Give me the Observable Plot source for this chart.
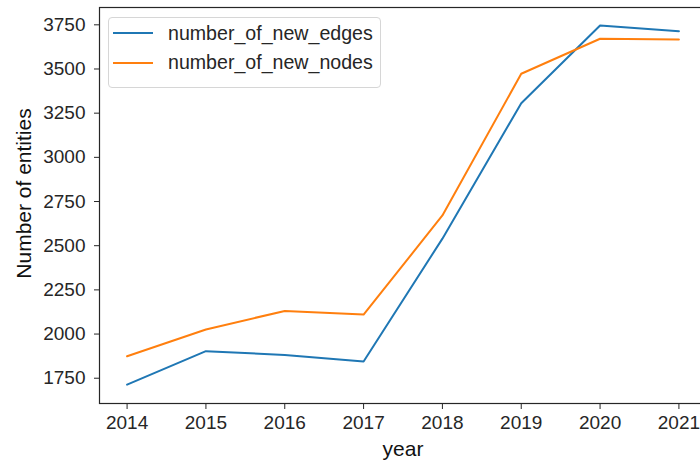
<!DOCTYPE html>
<html>
<head>
<meta charset="utf-8">
<script src="https://cdn.jsdelivr.net/npm/d3@7"></script>
<script src="https://cdn.jsdelivr.net/npm/@observablehq/plot@0.6"></script>
<style>
  html, body { margin: 0; padding: 0; background: #fff; overflow: hidden; }
  #chart { position: relative; width: 700px; height: 469px; overflow: hidden; }
  #chart svg { display: block; max-width: none !important; width: 708px !important; height: 469px !important; }
  .legend {
    position: absolute; left: 108px; top: 17px; width: 271px; height: 69px;
    border: 1px solid #d6d6d6; border-radius: 4px; background: rgba(255,255,255,0.85);
    font-family: "Liberation Sans", Arial, sans-serif; font-size: 19.6px; color: #262626;
  }
  .legend .item { position: absolute; left: 4px; height: 22px; display: flex; align-items: center; }
  .legend .swatch { width: 40px; height: 0; border-top: 2px solid; margin-right: 15px; }
</style>
</head>
<body>
<div id="chart"></div>
<script>
// Yearly counts of newly added graph entities
const years = [2014, 2015, 2016, 2017, 2018, 2019, 2020, 2021];
const newEdges = [1714, 1903, 1882, 1845, 2540, 3306, 3746, 3714];
const newNodes = [1874, 2026, 2131, 2110, 2671, 3473, 3671, 3667];
const seriesNames = ["number_of_new_edges", "number_of_new_nodes"];
const seriesColors = ["#1f77b4", "#ff7f0e"];
const yTicks = [1750, 2000, 2250, 2500, 2750, 3000, 3250, 3500, 3750];
const xLabel = "year";
const yLabel = "Number of entities";

const rows = [
  ...years.map((year, i) => ({year, value: newEdges[i], series: seriesNames[0]})),
  ...years.map((year, i) => ({year, value: newNodes[i], series: seriesNames[1]}))
];

const font = "'Liberation Sans', Arial, sans-serif";
const ink = "#262626";

const plot = Plot.plot({
  width: 708,
  height: 469,
  marginLeft: 99,
  marginRight: 2,
  marginTop: 7,
  marginBottom: 66,
  style: {fontFamily: font, fontSize: "19px", color: ink, background: "white", overflow: "visible"},
  x: {domain: [2013.65, 2021.35]},
  y: {domain: [1607, 3848]},
  color: {domain: seriesNames, range: seriesColors},
  marks: [
    Plot.axisX({ticks: years, tickFormat: d3.format("d"), tickSize: 6, tickPadding: 6, label: null,
      fontSize: 19, stroke: ink, fill: ink}),
    Plot.axisY({ticks: yTicks, tickFormat: d3.format("d"), tickSize: 5, tickPadding: 9, label: null,
      fontSize: 19, stroke: ink, fill: ink}),
    Plot.line(rows, {x: "year", y: "value", z: "series", stroke: "series", strokeWidth: 2}),
    Plot.frame({stroke: ink, strokeWidth: 1.2}),
    Plot.text([xLabel], {frameAnchor: "bottom", textAnchor: "middle", dy: 52, fontSize: 21, fill: "#111", fontFamily: font}),
    Plot.text([yLabel], {frameAnchor: "left", textAnchor: "middle", rotate: -90, dx: -75, dy: -12, fontSize: 21, fill: "#111", fontFamily: font})
  ]
});

const chart = document.getElementById("chart");
chart.appendChild(plot);

// Legend box in the upper-left of the plotting area
const legend = document.createElement("div");
legend.className = "legend";
seriesNames.forEach((name, i) => {
  const item = document.createElement("div");
  item.className = "item";
  item.style.top = (4 + i * 29.5) + "px";
  const sw = document.createElement("span");
  sw.className = "swatch";
  sw.style.borderTopColor = seriesColors[i];
  const label = document.createElement("span");
  label.textContent = name;
  item.appendChild(sw);
  item.appendChild(label);
  legend.appendChild(item);
});
chart.appendChild(legend);
</script>
</body>
</html>
